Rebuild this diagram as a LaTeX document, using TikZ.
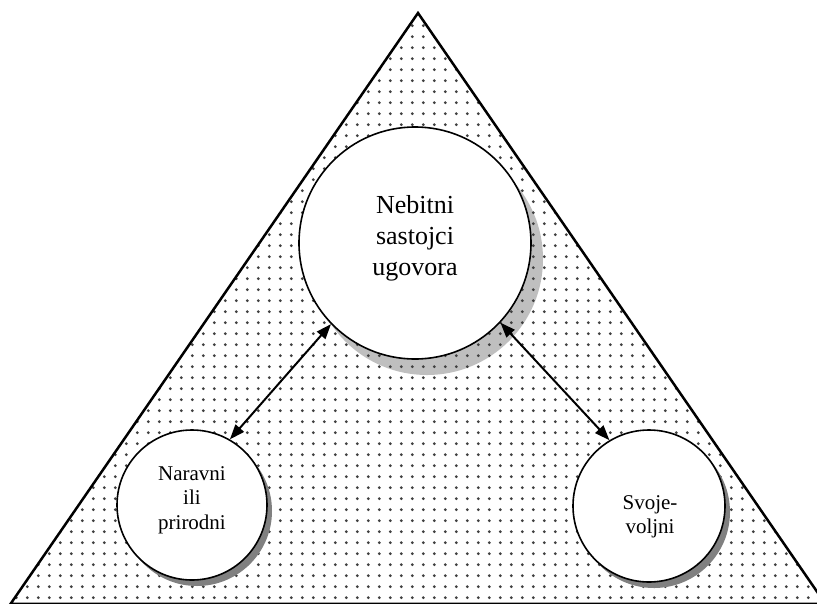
\documentclass[tikz,border=0pt]{standalone}
\usepackage{fontspec}
\setmainfont{Liberation Serif}
\usetikzlibrary{arrows.meta,patterns.meta}
\tikzdeclarepattern{
  name=sparsedots, type=uncolored,
  bounding box={(0,0) and (10.8pt,10.8pt)},
  tile size={(10.8pt,10.8pt)},
  code={\fill (5.4pt,5.4pt) circle (1.55pt);}
}
\tikzset{
  bubble/.style={circle,draw=black,line width=1.6pt,fill=white,inner sep=0pt},
  bigtext/.style={align=center,font=\fontsize{26}{31}\selectfont},
  smalltext/.style={align=center,font=\fontsize{21}{24.5}\selectfont},
  link/.style={line width=2pt,{Triangle[length=15pt,width=11pt]}-{Triangle[length=15pt,width=11pt]}},
  frame/.style={line width=2.5pt,line join=miter},
  bigshadow/.style={fill=black!25},
  smallshadow/.style={fill=black!50}
}
\begin{document}
\begin{tikzpicture}[x=1pt,y=-1pt]
\useasboundingbox (0,0) rectangle (817,603);
\fill[white] (0,0) rectangle (817,603);
\coordinate (apex) at (418,13);
\coordinate (bl) at (10.6,603.8);
\coordinate (br) at (825.4,603.8);
\begin{scope}
  \clip (apex) -- (bl) -- (br) -- cycle;
  \path[bigshadow] (427,259) circle (116);
  \fill[pattern=sparsedots,pattern color=black!75] (apex) -- (bl) -- (br) -- cycle;
\end{scope}
\draw[frame] (apex) -- (bl) -- (br) -- cycle;
\path[smallshadow] (197,511) circle (75);
\path[smallshadow] (654,512) circle (76);
\node[bubble,minimum size=232pt] (big) at (415,243) {};
\node[bubble,minimum size=150pt] (left) at (192,505) {};
\node[bubble,minimum size=152pt] (right) at (649,506) {};
\node[bigtext] (bigLabel) at (415,238) {Nebitni\\sastojci\\ugovora};
\node[smalltext] (leftLabel) at (192,500) {Naravni\\ili\\prirodni};
\node[smalltext] (rightLabel) at (650,517) {Svoje-\\voljni};
\draw[link] (big.224) -- (left.60);
\draw[link] (big.317) -- (right.121);
\end{tikzpicture}
\end{document}
